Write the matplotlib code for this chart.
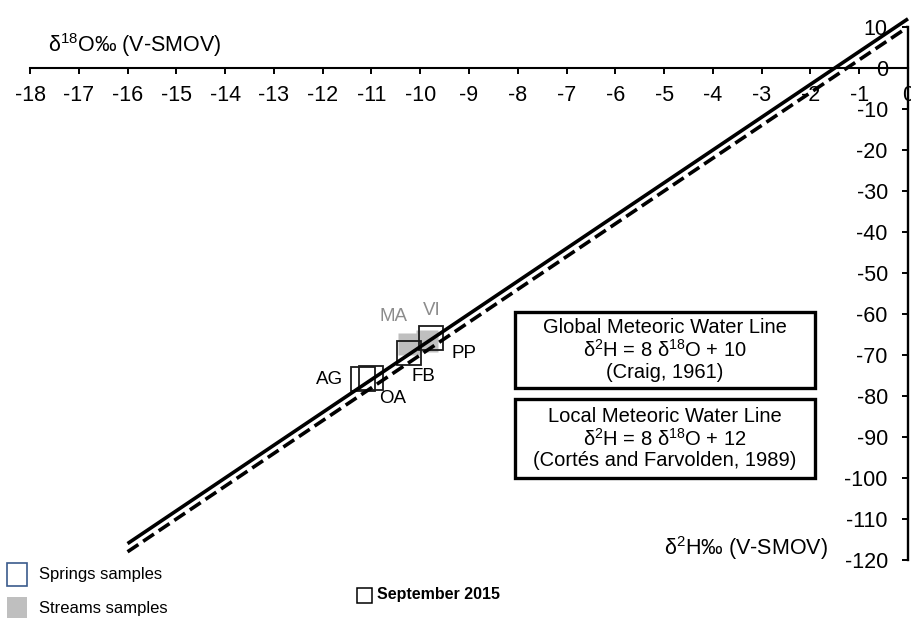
import matplotlib.pyplot as plt
from matplotlib.patches import Rectangle

plt.rcParams["font.family"] = ["Liberation Sans", "DejaVu Sans"]
plt.rcParams["mathtext.default"] = "regular"
plt.rcParams["axes.unicode_minus"] = False

# spring samples (outlined squares)
spring_sites = ["AG", "OA", "FB", "PP"]
spring_d18o = [-11.18, -11.00, -10.22, -9.77]
spring_d2h = [-75.9, -75.7, -69.5, -65.9]

# stream samples (grey squares)
stream_sites = ["MA", "VI"]
stream_d18o = [-10.24, -9.86]
stream_d2h = [-67.3, -66.6]

# meteoric water lines, end points
line_d18o = [-16, 0]
gmwl_d2h = [-118, 10]
lmwl_d2h = [-116, 12]

xticks = list(range(-18, 1))
yticks = list(range(-120, 11, 10))

# label offsets in pixels (dx, dy)
spring_offsets = [(-20, 0), (21, -20), (14, -24), (33, -15)]
spring_ha = ["right", "center", "center", "center"]
stream_offsets = [(-15, 27), (5, 31)]

W, H = 912, 618


def px(x, y):
    return x / W, 1 - y / H


fig = plt.figure(figsize=(W / 100, H / 100), dpi=100)
ax = fig.add_axes([30 / W, (H - 560) / H, 878 / W, 533 / H])
ax.set_xlim(-18, 0)
ax.set_ylim(-120, 10)

ax.spines["top"].set_visible(False)
ax.spines["right"].set_visible(False)
ax.spines["bottom"].set_position(("data", 0))
ax.spines["left"].set_position(("data", 0))
ax.spines["bottom"].set_linewidth(1.5)
ax.spines["left"].set_linewidth(1.7)

ax.set_xticks(xticks)
ax.set_yticks(yticks)
ax.tick_params(axis="both", direction="out", length=4.5, width=1.4,
               labelsize=15.5, colors="black")
ax.tick_params(axis="x", pad=8)
ax.tick_params(axis="y", pad=10)

# streams
ax.plot(stream_d18o, stream_d2h, "s", ms=16.5, mfc="#bfbfbf", mec="none",
        zorder=2)
for name, x, y, off in zip(stream_sites, stream_d18o, stream_d2h, stream_offsets):
    ax.annotate(name, (x, y), xytext=off, textcoords="offset pixels",
                ha="center", va="center", fontsize=13.5, color="#8c8c8c")

# springs
ax.plot(spring_d18o, spring_d2h, "s", ms=17.5, mfc="none", mec="#1a1a1a",
        mew=1.3, zorder=3)
for name, x, y, off, ha in zip(spring_sites, spring_d18o, spring_d2h,
                               spring_offsets, spring_ha):
    ax.annotate(name, (x, y), xytext=off, textcoords="offset pixels",
                ha=ha, va="center", fontsize=13.5, color="black")

# water lines
ax.plot(line_d18o, lmwl_d2h, color="black", lw=2.6, clip_on=False,
        solid_capstyle="butt", zorder=4)
ax.plot(line_d18o, gmwl_d2h, color="black", lw=2.6, ls=(0, (3.6, 1.6)),
        clip_on=False, zorder=4)

# axis titles
fig.text(*px(48, 45), r"δ$^{18}$O‰ (V-SMOV)", fontsize=15.5,
         ha="left", va="center")
fig.text(*px(828, 548), r"δ$^{2}$H‰ (V-SMOV)", fontsize=15.5,
         ha="right", va="center")

# equation boxes
boxes = [
    (312, 388, ["Global Meteoric Water Line", r"δ$^{2}$H = 8 δ$^{18}$O + 10",
                "(Craig, 1961)"]),
    (399, 478, ["Local Meteoric Water Line", r"δ$^{2}$H = 8 δ$^{18}$O + 12",
                "(Cortés and Farvolden, 1989)"]),
]
for top, bottom, lines in boxes:
    x0, y0 = px(515, bottom)
    fig.add_artist(Rectangle((x0, y0), 300 / W, (bottom - top) / H,
                             fill=False, lw=2.4, ec="black",
                             transform=fig.transFigure))
    mid = (top + bottom) / 2
    for i, txt in enumerate(lines):
        fig.text(*px(665, mid + (i - 1) * 22.5), txt, fontsize=14.5,
                 ha="center", va="center")

# sample legend
fig.add_artist(Rectangle(px(7, 586), 20 / W, 23 / H, fill=False, lw=1.2,
                         ec="#3b5b8c", transform=fig.transFigure))
fig.text(*px(39, 575), "Springs samples", fontsize=12, ha="left", va="center")
fig.add_artist(Rectangle(px(7, 618), 20 / W, 21 / H, fc="#bfbfbf", ec="none",
                         transform=fig.transFigure))
fig.text(*px(39, 608), "Streams samples", fontsize=12, ha="left", va="center")

fig.add_artist(Rectangle(px(357, 603), 15 / W, 15 / H, fill=False, lw=1.1,
                         ec="black", transform=fig.transFigure))
fig.text(*px(377, 595), "September 2015", fontsize=11.5, fontweight="bold",
         ha="left", va="center")

fig.savefig("out.png", dpi=100)
